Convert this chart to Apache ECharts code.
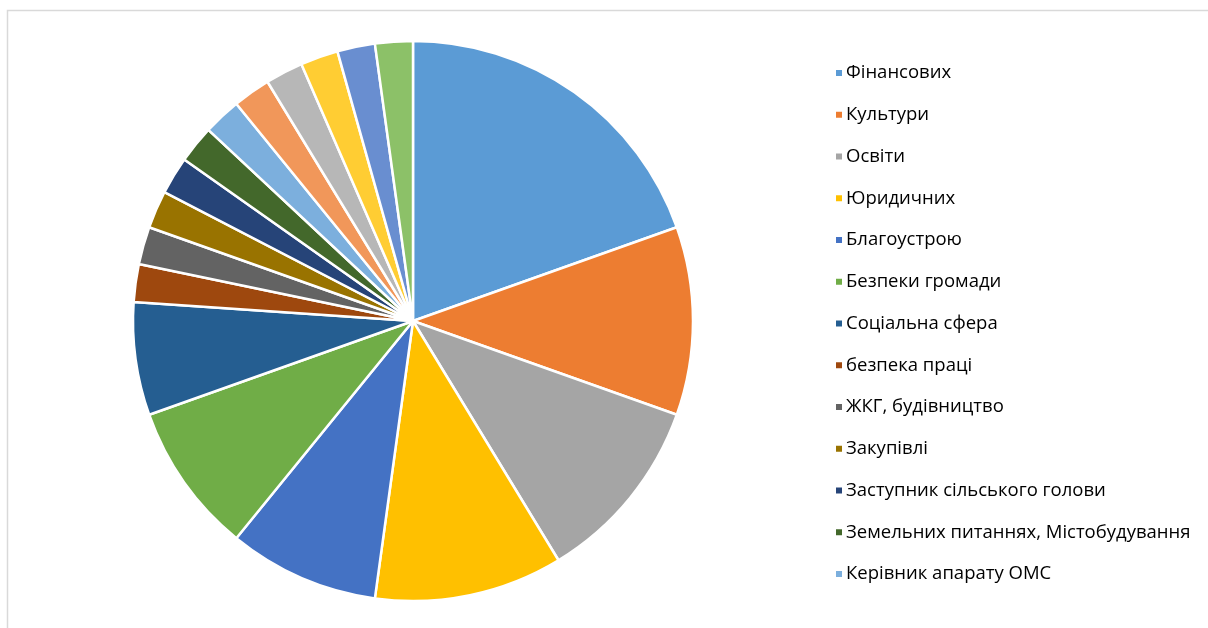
<!DOCTYPE html>
<html><head><meta charset="utf-8">
<script src="https://cdn.jsdelivr.net/npm/echarts@6/dist/echarts.min.js"></script>
<style>html,body{margin:0;padding:0;background:#fff}#c{width:1208px;height:628px}</style>
</head><body><div id="c"></div>
<script>
const categories = ["Фінансових","Культури","Освіти","Юридичних","Благоустрою","Безпеки громади","Соціальна сфера","безпека праці","ЖКГ, будівництво","Закупівлі","Заступник сільського голови","Земельних питаннях, Містобудування","Керівник апарату ОМС","Категорія 14","Категорія 15","Категорія 16","Категорія 17","Категорія 18"];
const values = [9,5,5,5,4,4,3,1,1,1,1,1,1,1,1,1,1,1];
const legendNames = categories.slice(0, 13);
const colors = ["#5B9BD5","#ED7D31","#A5A5A5","#FFC000","#4472C4","#70AD47","#255E91","#9E480E","#636363","#997300","#264478","#43682B","#7CAFDD","#F1975A","#B7B7B7","#FFCD33","#698ED0","#8CC168"];
const chart = echarts.init(document.getElementById('c'));
chart.setOption({
  animation: false,
  color: colors,
  graphic: [{type:'rect', shape:{x:7.5,y:10.5,width:1220,height:640}, style:{fill:'none',stroke:'#d9d9d9',lineWidth:1.5}}],
  legend: {
    orient: 'vertical', left: 829, top: 58,
    data: legendNames,
    icon: 'rect', itemWidth: 8, itemHeight: 8, itemGap: 21.75,
    textStyle: {fontFamily: 'Open Sans', fontSize: 18.5, color: '#000', lineHeight: 20, padding:[0,0,0,-2]},
    selectedMode: false
  },
  series: [{
    type: 'pie', center: [413, 321], radius: 280, startAngle: 90, clockwise: true,
    label: {show: false}, labelLine:{show:false},
    itemStyle: {borderColor: '#fff', borderWidth: 2.5},
    emphasis: {disabled: true},
    data: categories.map((n, i) => ({name: n, value: values[i]}))
  }]
});
</script></body></html>
